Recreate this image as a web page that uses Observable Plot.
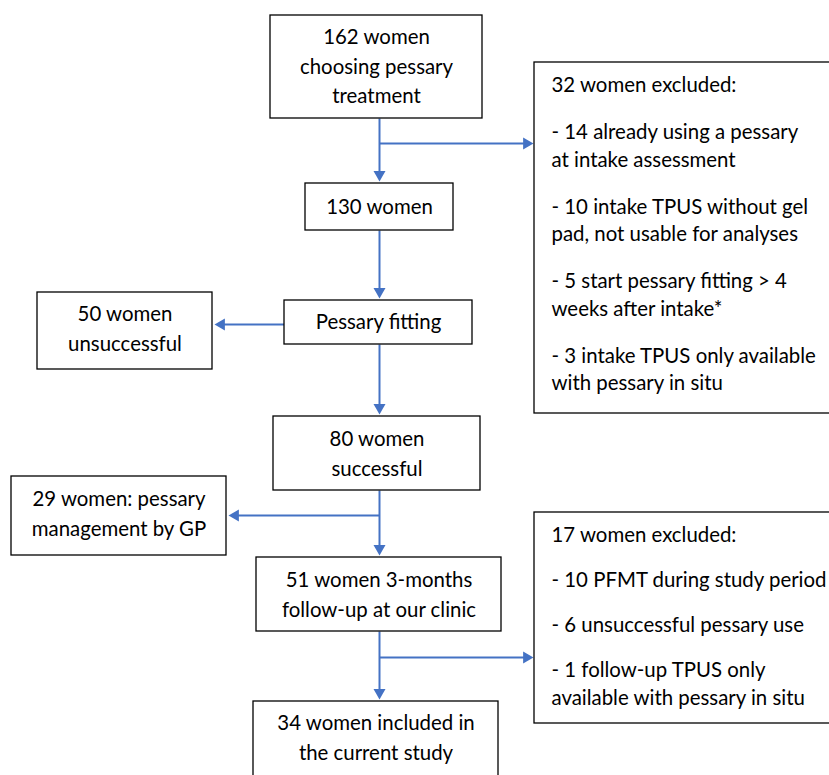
<!DOCTYPE html>
<html><head><meta charset="utf-8">
<script src="https://cdn.jsdelivr.net/npm/d3@7"></script>
<script src="https://cdn.jsdelivr.net/npm/@observablehq/plot@0.6"></script>
<style>html,body{margin:0;padding:0;background:#fff;overflow:hidden}</style>
</head><body><div id="chart"></div>
<script>
// ---------- flowchart content ----------
const stepIds = ["start","n130","fitting","unsuccessful","successful","gp","followup","included"];
const stepLabels = [
  ["162 women","choosing pessary","treatment"],
  ["130 women"],
  ["Pessary fitting"],
  ["50 women","unsuccessful"],
  ["80 women","successful"],
  ["29 women: pessary","management by GP"],
  ["51 women 3-months","follow-up at our clinic"],
  ["34 women included in","the current study"]
];
const exclusionIds = ["excl1","excl2"];
const exclusionHeaders = ["32 women excluded:","17 women excluded:"];
const exclusionItems = [
  [["- 14 already using a pessary","at intake assessment"],
   ["- 10 intake TPUS without gel","pad, not usable for analyses"],
   ["- 5 start pessary fitting > 4","weeks after intake*"],
   ["- 3 intake TPUS only available","with pessary in situ"]],
  [["- 10 PFMT during study period"],
   ["- 6 unsuccessful pessary use"],
   ["- 1 follow-up TPUS only","available with pessary in situ"]]
];
const flowFrom = ["start","start","n130","fitting","fitting","successful","successful","followup","followup"];
const flowTo   = ["n130","excl1","fitting","unsuccessful","successful","gp","followup","included","excl2"];

// ---------- layout (pixels) ----------
const layout = {
  width: 829, height: 775, spineX: 379,
  boxes: {
    start:        {x1:270, x2:482, y1:15,  y2:118},
    n130:         {x1:305, x2:453, y1:183, y2:230},
    fitting:      {x1:284, x2:472, y1:300, y2:344},
    unsuccessful: {x1:37,  x2:212, y1:292, y2:369, ty:329},
    successful:   {x1:273, x2:480, y1:416, y2:490, ty:454},
    gp:           {x1:11,  x2:226, y1:476, y2:555, ty:514},
    followup:     {x1:256, x2:501, y1:557, y2:631, ty:595},
    included:     {x1:253, x2:498, y1:701, y2:800, ty:738},
    excl1:        {x1:534, x2:845, y1:62,  y2:413, tx:551, ty0:85,  gap:19.5},
    excl2:        {x1:534, x2:845, y1:512, y2:723, tx:551, ty0:535, gap:17.5}
  },
  branchY: {excl1:143, unsuccessful:324, gp:515, excl2:657},
  lineStep: 29.5, listStep: 27.5, tipGap: 2, headSide: 12
};
const style = {font:"Lato", fontSize:20.4, ink:"#000", arrow:"#4472C4", arrowWidth:2, boxStroke:"#000", boxWidth:1.3};

// ---------- derived mark data ----------
const B = layout.boxes;
const boxes = [...stepIds, ...exclusionIds].map(id => ({id, ...B[id]}));

const centerRows = [], listRows = [];
stepIds.forEach((id, k) => {
  const b = B[id], lines = stepLabels[k], n = lines.length;
  const cy = b.ty ?? (b.y1 + b.y2) / 2;
  lines.forEach((t, i) => centerRows.push({x:(b.x1+b.x2)/2, y: cy + (i-(n-1)/2)*layout.lineStep, text:t}));
});
exclusionIds.forEach((id, k) => {
  const b = B[id];
  let y = b.ty0;
  listRows.push({x:b.tx, y, text:exclusionHeaders[k]});
  y += layout.listStep + b.gap;
  exclusionItems[k].forEach(item => {
    item.forEach(t => { listRows.push({x:b.tx, y, text:t}); y += layout.listStep; });
    y += b.gap;
  });
});

// connectors
const side = layout.headSide;
const rHead = Math.sqrt(Math.sqrt(3)/4*side*side/Math.PI);
const tipOff = 2*Math.sqrt(Math.PI*rHead*rHead/(3*Math.sqrt(3)));
const segs = [], heads = [];
flowFrom.forEach((f, k) => {
  const s = B[f], t = B[flowTo[k]], by = layout.branchY[flowTo[k]];
  let x1, y1, tx, ty, dx = 0, dy = 0;
  if (by === undefined) {
    x1 = layout.spineX; y1 = s.y2; tx = layout.spineX; ty = t.y1 - layout.tipGap; dy = 1;
  } else {
    const left = t.x2 < layout.spineX;
    const inside = by > s.y1 && by < s.y2;
    x1 = inside ? (left ? s.x1 : s.x2) : layout.spineX; y1 = by; ty = by;
    tx = left ? t.x2 + layout.tipGap : t.x1 - layout.tipGap + 1; dx = left ? -1 : 1;
  }
  const cx = tx - dx*tipOff, cy = ty - dy*tipOff;
  segs.push({x1, y1, x2:cx, y2:cy});
  heads.push({x:cx, y:cy, rotate: dy ? 180 : (dx > 0 ? 90 : -90)});
});

const textOpts = {x:"x", y:"y", text:"text", fontSize:style.fontSize, fill:style.ink, fontFamily:style.font};
const chart = Plot.plot({
  width: layout.width, height: layout.height,
  margin: 0,
  x: {domain:[0, layout.width], range:[0, layout.width], axis:null},
  y: {domain:[0, layout.height], range:[0, layout.height], axis:null},
  style: {fontFamily: style.font, background:"#fff", overflow:"hidden"},
  marks: [
    Plot.link(segs, {x1:"x1", y1:"y1", x2:"x2", y2:"y2", stroke:style.arrow, strokeWidth:style.arrowWidth}),
    Plot.dot(heads, {x:"x", y:"y", symbol:"triangle", r:rHead, fill:style.arrow, stroke:null, rotate:"rotate"}),
    Plot.rect(boxes, {x1:"x1", x2:"x2", y1:"y1", y2:"y2", fill:"#fff", stroke:style.boxStroke, strokeWidth:style.boxWidth, clip:true}),
    Plot.text(centerRows, {...textOpts, textAnchor:"middle"}),
    Plot.text(listRows, {...textOpts, textAnchor:"start"})
  ]
});
document.getElementById("chart").append(chart);
</script></body></html>
